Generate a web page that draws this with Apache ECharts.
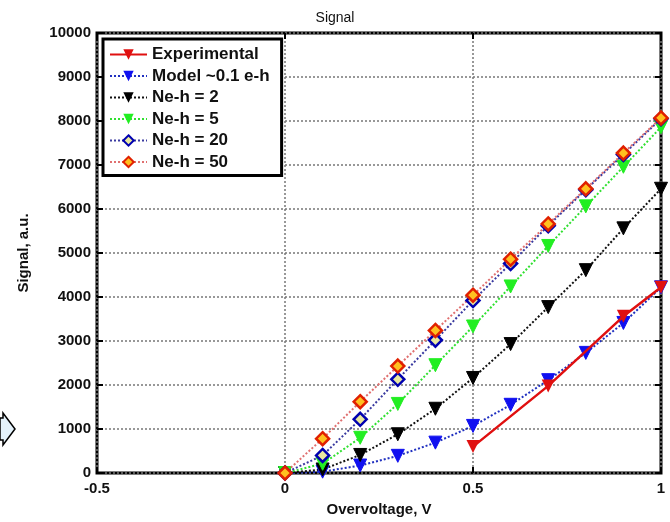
<!DOCTYPE html>
<html>
<head>
<meta charset="utf-8">
<script src="https://cdn.jsdelivr.net/npm/echarts@6/dist/echarts.min.js"></script>
<style>html,body{margin:0;padding:0;background:#fff}#c{width:670px;height:522px}</style>
</head>
<body>
<div id="c"></div>
<script>
var xExp = [0.5, 0.7, 0.9, 1.0];
var yExp = [600, 1980, 3560, 4220];
var xModel = [0, 0.1, 0.2, 0.3, 0.4, 0.5, 0.6, 0.7, 0.8, 0.9, 1.0];
var yModel = [0, 30, 170, 390, 690, 1070, 1550, 2110, 2730, 3410, 4220];
var yNe2 = [0, 80, 410, 880, 1460, 2160, 2930, 3770, 4610, 5560, 6460];
var yNe5 = [0, 210, 800, 1570, 2450, 3330, 4240, 5160, 6060, 6960, 7860];
var yNe20 = [0, 400, 1220, 2130, 3020, 3920, 4760, 5620, 6440, 7240, 8050];
var yNe50 = [0, 780, 1620, 2430, 3240, 4040, 4860, 5660, 6460, 7270, 8070];
var seriesNames = ['Experimental', 'Model ~0.1 e-h', 'Ne-h = 2', 'Ne-h = 5', 'Ne-h = 20', 'Ne-h = 50'];
var xTicks = [-0.5, 0, 0.5, 1];

function pairs(xs, ys) { return xs.map(function (x, i) { return [x, ys[i]]; }); }

var chart = echarts.init(document.getElementById('c'), null, {renderer: 'canvas'});
var font = 'Arial, "Liberation Sans", sans-serif';

function tri(name, ys, lineColor, fillColor) {
  return {
    name: name, type: 'line', data: pairs(xModel, ys),
    symbol: 'triangle', symbolRotate: 180, symbolSize: 13,
    lineStyle: {color: lineColor, width: 2, type: [2, 2]},
    itemStyle: {color: fillColor, borderColor: fillColor},
    z: 3
  };
}
function dia(name, ys, lineColor, border, fill) {
  return {
    name: name, type: 'line', data: pairs(xModel, ys),
    symbol: 'diamond', symbolSize: 13,
    lineStyle: {color: lineColor, width: 2, type: [2, 2]},
    itemStyle: {color: fill, borderColor: border, borderWidth: 2.5},
    z: 4
  };
}

var option = {
  animation: false,
  backgroundColor: '#fff',
  title: {
    text: 'Signal', left: 'center', top: 6,
    textStyle: {fontFamily: font, fontSize: 14, fontWeight: 'normal', color: '#111'}
  },
  grid: {left: 97, right: 9, top: 33, bottom: 45, show: true, borderColor: '#000', borderWidth: 3, backgroundColor: '#fff'},
  xAxis: [{
    type: 'value', min: -0.5, max: 1, interval: 0.5, position: 'bottom',
    name: 'Overvoltage, V', nameLocation: 'middle', nameGap: 29,
    nameTextStyle: {fontFamily: font, fontSize: 15, fontWeight: 'bold', color: '#111'},
    axisLine: {show: false, onZero: false},
    axisTick: {show: true, inside: true, length: 6, lineStyle: {color: '#000', width: 2}},
    axisLabel: {fontFamily: font, fontSize: 15, fontWeight: 'bold', color: '#111', margin: 8,
      formatter: function (v) { return xTicks.indexOf(v) >= 0 ? String(v) : ''; }},
    splitLine: {show: true, lineStyle: {color: '#777', width: 1.5, type: [2, 2]}}
  }, {
    type: 'value', min: -0.5, max: 1, interval: 0.5, position: 'top',
    axisLine: {show: false, onZero: false}, axisLabel: {show: false}, splitLine: {show: false},
    axisTick: {show: true, inside: true, length: 6, lineStyle: {color: '#000', width: 2}}
  }],
  yAxis: [{
    type: 'value', min: 0, max: 10000, interval: 1000, position: 'left',
    name: 'Signal, a.u.', nameLocation: 'middle', nameGap: 66,
    nameTextStyle: {fontFamily: font, fontSize: 15, fontWeight: 'bold', color: '#111'},
    axisLine: {show: false, onZero: false},
    axisTick: {show: true, inside: true, length: 6, lineStyle: {color: '#000', width: 2}},
    axisLabel: {fontFamily: font, fontSize: 15, fontWeight: 'bold', color: '#111', margin: 6,
      formatter: function (v) { return String(v); }},
    splitLine: {show: true, lineStyle: {color: '#777', width: 1.5, type: [2, 2]}}
  }, {
    type: 'value', min: 0, max: 10000, interval: 1000, position: 'right',
    axisLine: {show: false, onZero: false}, axisLabel: {show: false}, splitLine: {show: false},
    axisTick: {show: true, inside: true, length: 6, lineStyle: {color: '#000', width: 2}}
  }],
  legend: {
    data: seriesNames, orient: 'vertical', left: 103, top: 39,
    backgroundColor: '#fff', borderColor: '#000', borderWidth: 3, borderRadius: 0,
    padding: [7, 12, 5, 6], itemGap: 4.5, itemWidth: 37, itemHeight: 13,
    textStyle: {fontFamily: font, fontSize: 17, fontWeight: 'bold', color: '#111'}
  },
  graphic: [{
    type: 'polygon',
    shape: {points: [[0, 418], [3, 418], [3, 413], [15, 429], [3, 445], [3, 440], [0, 440]]},
    style: {fill: '#e4f2fb', stroke: '#000', lineWidth: 1.5}
  }],
  series: [
    {
      name: seriesNames[0], type: 'line', data: pairs(xExp, yExp),
      symbol: 'triangle', symbolRotate: 180, symbolSize: 13,
      lineStyle: {color: '#e01010', width: 2.5, type: 'solid'},
      itemStyle: {color: '#e01010'}, z: 5
    },
    tri(seriesNames[1], yModel, '#2030c0', '#1010f0'),
    tri(seriesNames[2], yNe2, '#111', '#000'),
    tri(seriesNames[3], yNe5, '#30e030', '#22ee22'),
    dia(seriesNames[4], yNe20, '#3a3aa0', '#0000b0', '#e8e8a0'),
    dia(seriesNames[5], yNe50, '#e07070', '#e02000', '#ffc020')
  ]
};
chart.setOption(option);
</script>
</body>
</html>
